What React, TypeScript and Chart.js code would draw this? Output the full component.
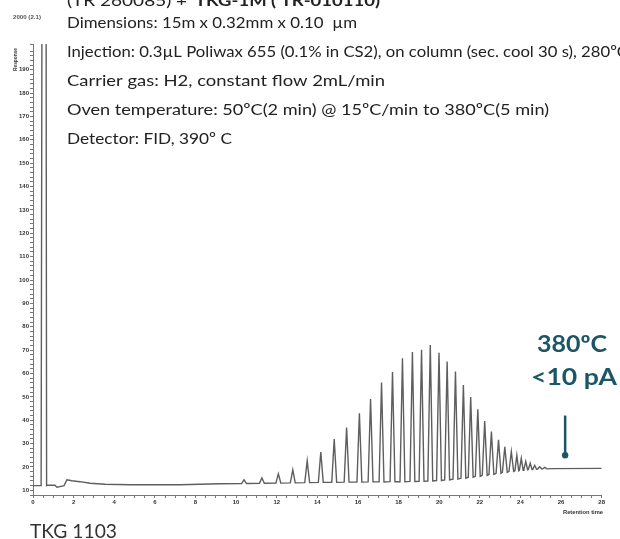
import React, { useEffect, useRef } from "react";
import { Chart, registerables } from "chart.js";

Chart.register(...registerables);

// ---------- data ----------
const xTickLabels = [0, 2, 4, 6, 8, 10, 12, 14, 16, 18, 20, 22, 24, 26, 28];
const yTickLabels = [10, 20, 30, 40, 50, 60, 70, 80, 90, 100, 110, 120, 130, 140, 150, 160, 170, 180, 190, 200];

// baseline (retention time in min, response)
const baselineTimes = [0, 0.4, 0.72, 1.08, 1.18, 1.38, 1.53, 1.67, 1.92, 2.31, 2.81, 3.55, 4.78, 7.24, 9.2, 25.6, 28.0];
const baselineLevels = [12.0, 12.0, 12.2, 12.2, 11.3, 11.7, 12.0, 14.5, 14.1, 13.7, 13.0, 12.6, 12.4, 12.4, 12.8, 19.3, 19.4];

// solvent peak (saturated, goes off scale)
const solventTimes = [0.42, 0.45, 0.64, 0.67];
const solventLevels = [12.0, 260, 260, 12.0];

// Poliwax peaks
const peakTimes = [
  10.39, 11.27, 12.08, 12.79, 13.5, 14.17, 14.83, 15.44, 16.07, 16.62, 17.16, 17.7,
  18.19, 18.68, 19.13, 19.56, 19.99, 20.39, 20.8, 21.19, 21.55, 21.9, 22.24, 22.57,
  22.92, 23.23, 23.55, 23.82, 24.04, 24.26, 24.48, 24.7, 24.95, 25.2,
];
const peakHeights = [
  14.5, 15.3, 17.1, 18.8, 22.6, 26.4, 31.9, 36.9, 43.0, 49.1, 56.1, 60.6,
  66.5, 69.2, 70.1, 72.2, 68.9, 65.1, 60.8, 55.1, 49.9, 44.7, 39.7, 35.2,
  31.6, 28.6, 26.6, 25.0, 23.7, 22.4, 21.6, 20.7, 20.1, 19.8,
];
const peakBases = [
  12.9, 13.0, 13.1, 13.2, 13.3, 13.4, 13.4, 13.5, 13.5, 13.6, 13.6, 13.7,
  13.7, 13.8, 13.9, 14.0, 14.2, 14.5, 14.8, 15.2, 15.6, 16.0, 16.4, 16.8,
  17.3, 17.7, 18.1, 18.4, 18.6, 18.8, 18.9, 19.0, 19.1, 19.2,
];

const headerPlain = "(TR 260085) + ";
const headerBold = "TKG-1M ( TR-010110)";
const infoLines = [
  "Dimensions: 15m x 0.32mm x 0.10  \u00b5m",
  "Injection: 0.3\u00b5L Poliwax 655 (0.1% in CS2), on column (sec. cool 30 s), 280\u00baC",
  "Carrier gas: H2, constant flow 2mL/min",
  "Oven temperature: 50\u00baC(2 min) @ 15\u00baC/min to 380\u00baC(5 min)",
  "Detector: FID, 390\u00ba C",
];
const calloutLines = ["380\u00baC", "<10 pA"];
const markerTime = 26.2;
const markerTop = 42;
const markerBottom = 25;
const footerLabel = "TKG 1103";
const xAxisTitle = "Retention time";
const yAxisTitle = "Response";
const yScaleNote = "2000 (2.1)";

// ---------- build the trace ----------
function buildTrace() {
  const pts: { x: number; y: number }[] = [];
  const windows: [number, number][] = [];
  peakTimes.forEach((t, i) => {
    const prev = i > 0 ? t - peakTimes[i - 1] : 1;
    const next = i < peakTimes.length - 1 ? peakTimes[i + 1] - t : 1;
    const hw = Math.min(0.12, Math.min(prev, next) * 0.42);
    pts.push({ x: t - hw, y: peakBases[i] }, { x: t, y: peakHeights[i] }, { x: t + hw, y: peakBases[i] });
    windows.push([t - hw, t + hw]);
  });
  solventTimes.forEach((t, i) => pts.push({ x: t, y: solventLevels[i] }));
  windows.push([solventTimes[0], solventTimes[solventTimes.length - 1]]);
  baselineTimes.forEach((t, i) => {
    if (!windows.some(([a, b]) => t >= a && t <= b)) pts.push({ x: t, y: baselineLevels[i] });
  });
  pts.sort((a, b) => a.x - b.x);
  return pts;
}

const TEAL = "#1c5666";

const annotPlugin = {
  id: "annot",
  afterDraw(chart: any) {
    const ctx: CanvasRenderingContext2D = chart.ctx;
    const fit = (text: string, x: number, y: number, width: number, font: string, color: string) => {
      ctx.save();
      ctx.font = font;
      ctx.fillStyle = color;
      ctx.textBaseline = "alphabetic";
      ctx.textAlign = "left";
      const w = ctx.measureText(text).width;
      ctx.translate(x, y);
      ctx.scale(width / w, 1);
      ctx.fillText(text, 0, 0);
      ctx.restore();
    };
    const fam = "Lato, 'Open Sans', sans-serif";
    // header
    fit(headerPlain, 67, 6, 125, `16px ${fam}`, "#222");
    fit(headerBold, 195, 6, 185, `bold 16px ${fam}`, "#222");
    const ends = [357, 628, 385, 549, 232];
    const bases = [28, 57, 86, 115, 144];
    infoLines.forEach((l, i) => fit(l, 67, bases[i], ends[i] - 67, `16px ${fam}`, "#222"));
    // callout
    fit(calloutLines[0], 537, 352, 70, `bold 23px ${fam}`, TEAL);
    fit(calloutLines[1], 531, 385, 86, `bold 23px ${fam}`, TEAL);
    const xs = chart.scales.x;
    const ys = chart.scales.y;
    const mx = xs.getPixelForValue(markerTime);
    const y1 = ys.getPixelForValue(markerTop);
    const y2 = ys.getPixelForValue(markerBottom);
    ctx.save();
    ctx.strokeStyle = TEAL;
    ctx.fillStyle = TEAL;
    ctx.lineWidth = 2.5;
    ctx.beginPath();
    ctx.moveTo(mx, y1);
    ctx.lineTo(mx, y2);
    ctx.stroke();
    ctx.beginPath();
    ctx.arc(mx, y2, 3.2, 0, Math.PI * 2);
    ctx.fill();
    ctx.restore();
    // footer
    fit(footerLabel, 30, 538, 87, `19px ${fam}`, "#333");
    // tiny axis texts
    fit(xAxisTitle, 563, 514, 40, `bold 6px 'Liberation Sans', sans-serif`, "#333");
    fit(yScaleNote, 13, 19, 28, `bold 6px 'Liberation Sans', sans-serif`, "#555");
    ctx.save();
    ctx.translate(17, 71);
    ctx.rotate(-Math.PI / 2);
    ctx.font = "bold 5px 'Liberation Sans', sans-serif";
    ctx.fillStyle = "#444";
    const w = ctx.measureText(yAxisTitle).width;
    ctx.scale(23 / w, 1);
    ctx.fillText(yAxisTitle, 0, 0);
    ctx.restore();
  },
};

export default function App() {
  const ref = useRef<HTMLCanvasElement>(null);
  useEffect(() => {
    document.body.style.margin = "0";
    const tickFont = { size: 6, family: "'Liberation Sans', sans-serif", weight: "bold" as const };
    const chart = new Chart(ref.current!, {
      type: "line",
      data: {
        datasets: [
          {
            data: buildTrace(),
            borderColor: "#5e5e5e",
            borderWidth: 1.4,
            pointRadius: 0,
            tension: 0,
            fill: false,
          },
        ],
      },
      options: {
        responsive: false,
        animation: false,
        layout: { padding: { top: 44, right: 18.3, left: 0, bottom: 0 } },
        plugins: { legend: { display: false }, tooltip: { enabled: false } },
        scales: {
          x: {
            type: "linear",
            min: 0,
            max: 28,
            afterFit: (s: any) => {
              s.height = 44;
            },
            ticks: {
              stepSize: 0.5,
              autoSkip: false,
              maxRotation: 0,
              padding: 1,
              color: "#333",
              font: tickFont,
              callback: (v: any) => (xTickLabels.includes(Number(v)) ? String(v) : ""),
            },
            grid: { drawOnChartArea: false, drawTicks: true, tickLength: 3, color: "#777" },
            border: { display: true, color: "#777", width: 1 },
          },
          y: {
            type: "linear",
            min: 8,
            max: 201,
            afterFit: (s: any) => {
              s.width = 33;
            },
            ticks: {
              stepSize: 2,
              autoSkip: false,
              padding: 1,
              color: "#333",
              font: tickFont,
              callback: (v: any) => (yTickLabels.includes(Number(v)) ? String(v) : ""),
            },
            grid: { drawOnChartArea: false, drawTicks: true, tickLength: 3, color: "#777" },
            border: { display: true, color: "#777", width: 1 },
          },
        },
      },
      plugins: [annotPlugin],
    });
    return () => chart.destroy();
  }, []);
  return (
    <div style={{ width: 620, height: 539, position: "relative", background: "#fff" }}>
      <canvas ref={ref} width={620} height={539} style={{ display: "block" }} />
    </div>
  );
}
